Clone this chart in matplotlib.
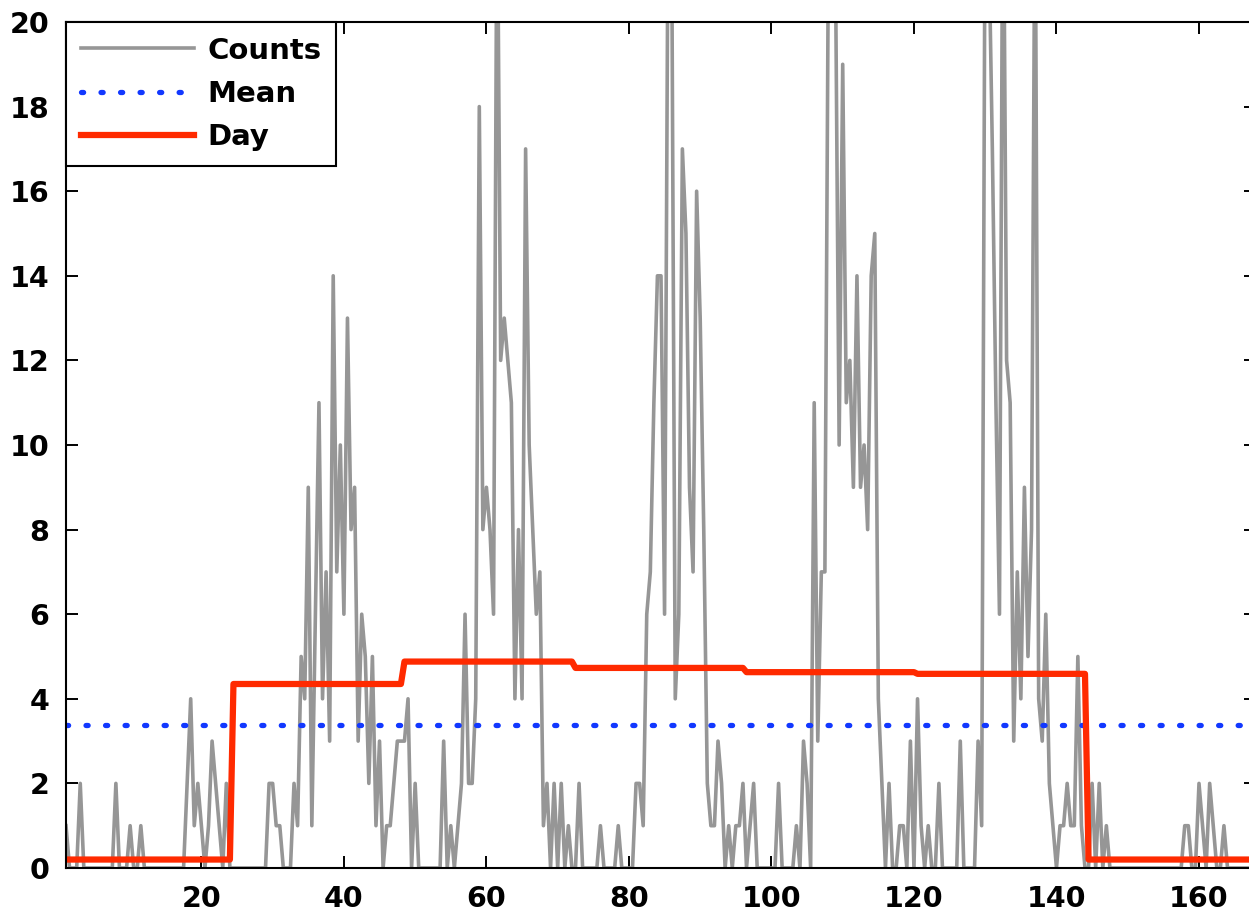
import numpy as np
import matplotlib
matplotlib.use("Agg")
import matplotlib.pyplot as plt

# ---------------------------------------------------
# Half-hourly counts, one list per day (x = 1, 1.5, ..., 168)
# ---------------------------------------------------
counts_day1 = [1, 0, 0, 0, 2, 0, 0, 0, 0, 0, 0, 0, 0, 0, 2, 0, 0, 0, 1, 0, 0, 1, 0,
               0, 0, 0, 0, 0, 0, 0, 0, 0, 0, 0,
               2, 4, 1, 2, 1, 0, 1, 3, 2, 1, 0, 2, 0]
counts_day2 = [0, 0, 0, 0, 0, 0, 0, 0, 0, 0,
               2, 2, 1, 1, 0, 0, 0, 2, 1, 5,
               4, 9, 1, 6, 11, 4, 7, 3, 14, 7,
               10, 6, 13, 8, 9, 3, 6, 5, 2, 5,
               1, 3, 0, 1, 1, 2, 3, 3]
counts_day3 = [3, 4, 0, 2, 0, 0, 0, 0, 0, 0,
               0, 3, 0, 1, 0, 1, 2, 6, 2, 2,
               4, 18, 8, 9, 8, 6, 24, 12, 13, 12,
               11, 4, 8, 4, 17, 10, 8, 6, 7, 1,
               2, 0, 2, 0, 2, 0, 1, 0]
counts_day4 = [0, 2, 0, 0, 0, 0, 0, 1, 0, 0,
               0, 0, 1, 0, 0, 0, 0, 2, 2, 1,
               6, 7, 11, 14, 14, 6, 23, 22, 4, 6,
               17, 15, 9, 7, 16, 13, 8, 2, 1, 1,
               3, 2, 0, 1, 0, 1, 1, 2]
counts_day5 = [0, 1, 2, 0, 0, 0, 0, 0, 0, 2,
               0, 0, 0, 0, 1, 0, 3, 2, 0, 11,
               3, 7, 7, 22, 24, 21, 10, 19, 11, 12,
               9, 14, 9, 10, 8, 14, 15, 4, 2, 0,
               2, 0, 0, 1, 1, 0, 3, 0]
counts_day6 = [4, 1, 0, 1, 0, 0, 2, 0, 0, 0,
               0, 0, 3, 0, 0, 0, 0, 3, 1, 24,
               22, 17, 11, 6, 25, 12, 11, 3, 7, 4,
               9, 5, 8, 24, 4, 3, 6, 2, 1, 0,
               1, 1, 2, 1, 1, 5, 1, 0]
counts_day7 = [0, 2, 0, 2, 0, 1, 0, 0, 0, 0,
               0, 0, 0, 0, 0, 0, 0, 0, 0, 0,
               0, 0, 0, 0, 0, 0, 0, 1, 1, 0,
               0, 2, 1, 0, 2, 1, 0, 0, 1, 0,
               0, 0, 0, 0, 0, 0, 0, 1]

day_means = [0.2, 4.35, 4.88, 4.73, 4.63, 4.59, 0.2]
overall_mean = 3.37

days = [counts_day1, counts_day2, counts_day3, counts_day4,
        counts_day5, counts_day6, counts_day7]

counts = np.concatenate([np.array(d, dtype=float) for d in days])
hours = np.arange(2, 2 + len(counts)) / 2.0
day_line = np.concatenate([np.full(len(d), m) for d, m in zip(days, day_means)])

# ---------------------------------------------------
# Plot
# ---------------------------------------------------
plt.rcParams['font.family'] = ['DejaVu Sans']
plt.rcParams['font.weight'] = 'bold'

W, H = 1249, 917
fig = plt.figure(figsize=(W / 100, H / 100), dpi=100)
ax = fig.add_axes([66 / W, 49 / H, 1190 / W, 846 / H])

ax.plot(hours, counts, color='#969696', lw=2.6, label='Counts')
ax.axhline(overall_mean, color='#1238ff', lw=3.8, linestyle=(0, (0.4, 3.3)),
           dash_capstyle='round', label='Mean')
ax.plot(hours, day_line, color='#ff2a00', lw=4.5, label='Day',
        solid_joinstyle='round')

ax.set_xlim(1, 168)
ax.set_ylim(0, 20)
ax.set_xticks(np.arange(20, 161, 20))
ax.set_yticks(np.arange(0, 21, 2))

ax.tick_params(direction='in', length=8.5, width=1.4, top=True, right=True,
               labelsize=20.5, pad=12, colors='black')
for sp in ax.spines.values():
    sp.set_linewidth(1.5)

leg = ax.legend(loc='upper left', borderaxespad=0, fancybox=False,
                edgecolor='black', framealpha=1, handlelength=3.9,
                handletextpad=0.45, borderpad=0.5, labelspacing=0.53,
                prop={'weight': 'bold', 'size': 21})
leg.get_frame().set_linewidth(1.5)

fig.savefig('out.png', dpi=100)
